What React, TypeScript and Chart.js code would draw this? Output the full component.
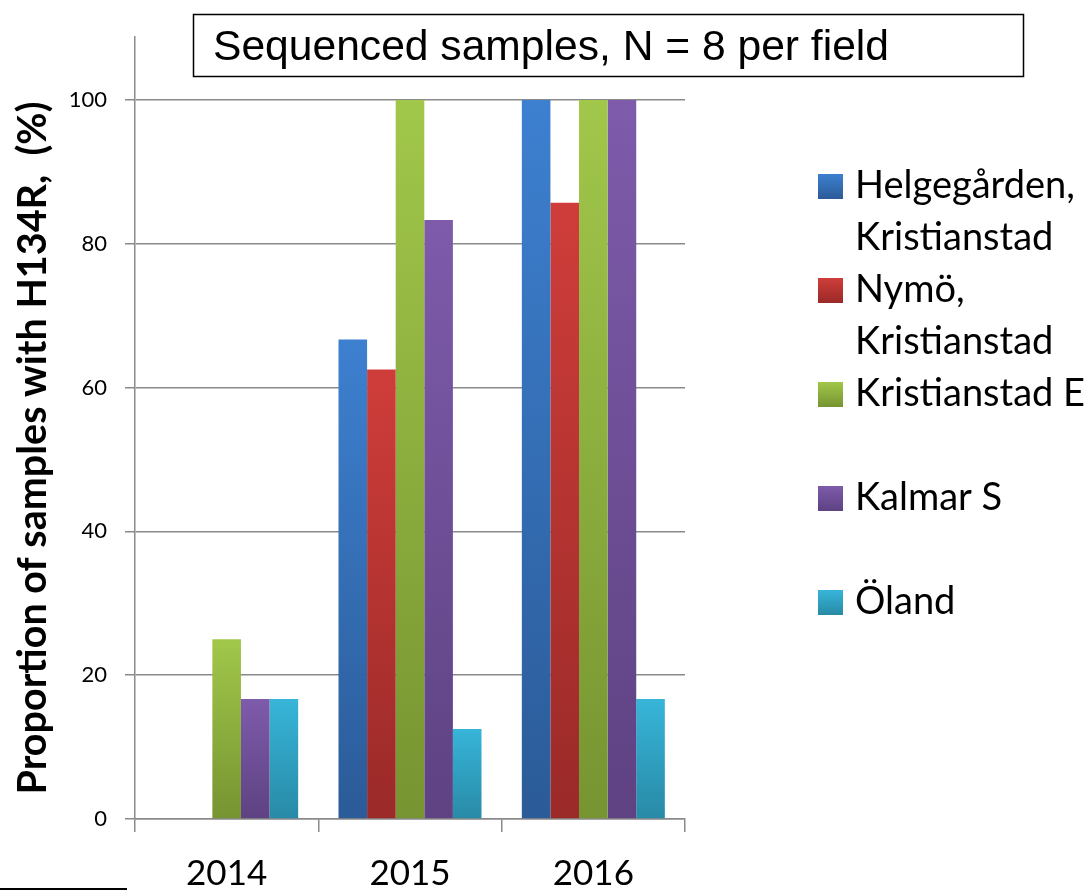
import React, { useEffect, useRef } from "react";
import { Chart, registerables } from "chart.js";

Chart.register(...registerables);

// ---- data ----
const years = ["2014", "2015", "2016"];
const seriesNames = [
  "Helgegården, Kristianstad",
  "Nymö, Kristianstad",
  "Kristianstad E",
  "Kalmar S",
  "Öland",
];
const legendLines = [
  ["Helgegården,", "Kristianstad"],
  ["Nymö,", "Kristianstad"],
  ["Kristianstad E"],
  ["Kalmar S"],
  ["Öland"],
];
const helgegarden = [0, 66.7, 100];
const nymo = [0, 62.5, 85.7];
const kristianstadE = [25, 100, 100];
const kalmarS = [16.7, 83.3, 100];
const oland = [16.7, 12.5, 16.7];
const yTicks = [0, 20, 40, 60, 80, 100];
const titleText = "Sequenced samples, N = 8 per field";
const yTitle = "Proportion of samples with H134R,  (%)";

// ---- styles ----
const palette: [string, string][] = [
  ["#3d80d0", "#2b5b98"],
  ["#cf3d3a", "#9a2a28"],
  ["#a1c74a", "#769431"],
  ["#7e5bab", "#5e4282"],
  ["#37b5d9", "#288aa6"],
];
const GRID = "#8a8a8a";
const CAL = "Lato, 'Open Sans', sans-serif";

const barGradient = (i: number) => (ctx: any) => {
  const chart = ctx.chart;
  const y = chart.scales && chart.scales.y;
  if (!y || !chart.chartArea || ctx.type !== "data") return palette[i][0];
  const v = ctx.raw as number;
  const top = y.getPixelForValue(v);
  const bot = y.getPixelForValue(0);
  if (!isFinite(top) || !isFinite(bot) || bot - top < 1) return palette[i][0];
  const g = chart.ctx.createLinearGradient(0, top, 0, bot);
  g.addColorStop(0, palette[i][0]);
  g.addColorStop(1, palette[i][1]);
  return g;
};

const decorPlugin = {
  id: "decor",
  afterDraw(chart: any) {
    const c = chart.ctx as CanvasRenderingContext2D;
    c.save();
    // title box
    c.fillStyle = "#ffffff";
    c.fillRect(193, 14, 831, 63);
    c.strokeStyle = "#000000";
    c.lineWidth = 1.5;
    c.strokeRect(193.5, 14.5, 830, 62);
    c.fillStyle = "#000000";
    c.font = "42.6px 'Liberation Sans', Arial, sans-serif";
    c.textAlign = "left";
    c.textBaseline = "alphabetic";
    c.fillText(titleText, 213, 60);

    // y axis title
    c.save();
    c.translate(33, 448);
    c.rotate(-Math.PI / 2);
    c.font = `bold 39.5px ${CAL}`;
    c.textAlign = "center";
    c.textBaseline = "middle";
    c.fillText(yTitle, 0, 0);
    c.restore();

    // legend
    c.font = `38px ${CAL}`;
    c.textAlign = "left";
    c.textBaseline = "alphabetic";
    legendLines.forEach((lines, i) => {
      const base = 198 + i * 104;
      const g = c.createLinearGradient(0, base - 24, 0, base + 1);
      g.addColorStop(0, palette[i][0]);
      g.addColorStop(1, palette[i][1]);
      c.fillStyle = g;
      c.fillRect(818, base - 24, 25, 25);
      c.fillStyle = "#000000";
      lines.forEach((t, k) => c.fillText(t, 855, base + k * 52));
    });

    // stray line bottom-left
    c.fillStyle = "#000000";
    c.fillRect(0, 888, 127, 2);
    c.restore();
  },
};

export default function App() {
  const ref = useRef<HTMLCanvasElement | null>(null);
  useEffect(() => {
    if (!ref.current) return;
    const series = [helgegarden, nymo, kristianstadE, kalmarS, oland];
    const chart = new Chart(ref.current, {
      type: "bar",
      data: {
        labels: years,
        datasets: series.map((d, i) => ({
          label: seriesNames[i],
          data: d,
          backgroundColor: barGradient(i),
          borderWidth: 0,
          categoryPercentage: 0.78,
          barPercentage: 1.0,
        })),
      },
      options: {
        responsive: false,
        animation: false,
        layout: { padding: { left: 0, right: 407, top: 37, bottom: 0 } },
        plugins: {
          legend: { display: false },
          tooltip: { enabled: false },
          title: { display: false },
        },
        scales: {
          x: {
            offset: true,
            grid: {
              offset: true,
              drawOnChartArea: false,
              drawTicks: true,
              tickLength: 13,
              color: GRID,
              lineWidth: 1.5,
            },
            border: { color: GRID, width: 1.5 },
            ticks: { font: { family: CAL, size: 35 }, color: "#000", padding: 21 },
            afterFit: (s: any) => {
              s.height = 73;
            },
          },
          y: {
            min: 0,
            max: 108.76,
            afterBuildTicks: (s: any) => {
              s.ticks = yTicks.map((v) => ({ value: v }));
            },
            grid: { color: GRID, lineWidth: 1.5, tickLength: 10 },
            border: { color: GRID, width: 1.5 },
            ticks: { font: { family: CAL, size: 22 }, color: "#000", padding: 18 },
            afterFit: (s: any) => {
              s.width = 135;
            },
          },
        },
      },
      plugins: [decorPlugin],
    });
    return () => chart.destroy();
  }, []);
  return (
    <div style={{ position: "absolute", left: 0, top: 0, width: 1092, height: 892, background: "#fff" }}>
      <canvas ref={ref} width={1092} height={892} style={{ display: "block" }} />
    </div>
  );
}
